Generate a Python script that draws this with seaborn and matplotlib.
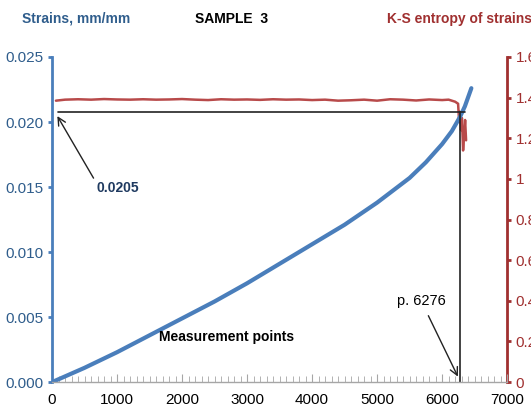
import matplotlib
matplotlib.use("Agg")
import matplotlib.pyplot as plt
from matplotlib.ticker import MultipleLocator
import pandas as pd
import seaborn as sns

# Strain curve
strain_x = [0, 500, 1000, 1500, 2000, 2500, 3000, 3500, 4000, 4500, 5000, 5500, 5750, 6000,
            6150, 6276, 6350, 6400, 6450]
strain_y = [0.0, 0.0011, 0.0023, 0.0036, 0.0049, 0.0062, 0.0076, 0.0091, 0.0106, 0.0121, 0.0138,
            0.0157, 0.0169, 0.0183, 0.0193, 0.0204, 0.0212, 0.0219, 0.0226]

# K-S entropy of strains
ks_x = [60, 200, 400, 600, 800, 1000, 1200, 1400, 1600, 1800, 2000, 2200, 2400, 2600, 2800, 3000,
        3200, 3400, 3600, 3800, 4000, 4200, 4400, 4600, 4800, 5000, 5200, 5400, 5600, 5800, 6000,
        6100, 6200, 6246, 6262, 6275, 6292, 6305, 6323, 6340, 6354, 6369]
ks_y = [1.385, 1.39, 1.392, 1.39, 1.393, 1.391, 1.39, 1.392, 1.39, 1.391, 1.393, 1.39, 1.388, 1.392,
        1.39, 1.391, 1.389, 1.392, 1.39, 1.391, 1.388, 1.39, 1.385, 1.387, 1.39, 1.385, 1.392, 1.39,
        1.386, 1.391, 1.388, 1.39, 1.38, 1.37, 1.28, 1.33, 1.24, 1.3, 1.14, 1.22, 1.29, 1.19]

hline_y = 0.0208
point_x = 6276
x_ticks = [0, 1000, 2000, 3000, 4000, 5000, 6000, 7000]
left_ticks = [0.000, 0.005, 0.010, 0.015, 0.020, 0.025]
right_ticks = [0, 0.2, 0.4, 0.6, 0.8, 1, 1.2, 1.4, 1.6]

blue = "#4A7EBB"
blue_txt = "#2F5D8C"
red = "#B84A4A"
red_txt = "#A03030"

sns.set_style("white")
plt.rcParams["font.family"] = ["Liberation Sans", "DejaVu Sans"]

strain = pd.DataFrame({"x": strain_x, "y": strain_y})
ks = pd.DataFrame({"x": ks_x, "y": ks_y})

fig = plt.figure(figsize=(5.31, 4.19), dpi=100)
ax = fig.add_axes([0.098, 0.088, 0.857, 0.776])
ax2 = ax.twinx()

sns.lineplot(data=ks, x="x", y="y", ax=ax2, color=red, linewidth=1.8)
sns.lineplot(data=strain, x="x", y="y", ax=ax, color=blue, linewidth=3.0)

# reference lines at the failure point
ax.plot([90, 6354], [hline_y, hline_y], color="#222222", lw=1.2)
ax.plot([point_x, point_x], [0, hline_y], color="#222222", lw=1.2)
ax.set_zorder(ax2.get_zorder() + 1)
ax.patch.set_visible(False)

ax.set_xlim(0, 7000)
ax.set_ylim(0, 0.025)
ax2.set_ylim(0, 1.6)
ax.set_xticks(x_ticks)
ax.xaxis.set_minor_locator(MultipleLocator(100))
ax.set_yticks(left_ticks)
ax.set_yticklabels([f"{v:.3f}" for v in left_ticks])
ax2.set_yticks(right_ticks)
ax2.set_yticklabels([f"{v:g}" for v in right_ticks])
ax.set_xlabel("")
ax.set_ylabel("")
ax2.set_ylabel("")

for a in (ax, ax2):
    a.spines["top"].set_visible(False)
ax.spines["right"].set_visible(False)
ax2.spines["left"].set_visible(False)
ax2.spines["bottom"].set_visible(False)
ax.spines["left"].set_color(blue)
ax.spines["left"].set_linewidth(2)
ax.spines["bottom"].set_color("#A6A6A6")
ax.spines["bottom"].set_linewidth(1)
ax2.spines["right"].set_color(red_txt)
ax2.spines["right"].set_linewidth(2)

ax.tick_params(axis="x", which="major", direction="in", length=6, color="#A6A6A6", labelsize=11,
               labelcolor="black", pad=8, bottom=True)
ax.tick_params(axis="x", which="minor", direction="in", length=4, color="#A6A6A6", bottom=True)
ax.tick_params(axis="y", direction="out", length=3, width=2, color=blue, labelcolor=blue_txt,
               labelsize=11, pad=3, left=True)
ax2.tick_params(axis="y", direction="out", length=3, width=2, color=red_txt, labelcolor=red_txt,
                labelsize=11, pad=3, right=True)

# annotations
ax.annotate("", xy=(60, 0.02064), xytext=(660, 0.0155),
            arrowprops=dict(arrowstyle="->", color="#222222", lw=1, mutation_scale=14))
ax.text(1015, 0.0149, "0.0205", ha="center", va="center", fontsize=10, fontweight="bold",
        color="#1F3A60")
ax.annotate("", xy=(6262, 0.00023), xytext=(5770, 0.0053),
            arrowprops=dict(arrowstyle="->", color="#222222", lw=1, mutation_scale=14))
ax.text(5677, 0.00627, "p. 6276", ha="center", va="center", fontsize=10.5, color="black")
ax.text(2677, 0.00344, "Measurement points", ha="center", va="center", fontsize=10,
        fontweight="bold", color="black")

fig.text(0.143, 0.955, "Strains, mm/mm", ha="center", va="center", fontsize=10,
         fontweight="bold", color=blue_txt)
fig.text(0.437, 0.955, "SAMPLE  3", ha="center", va="center", fontsize=10, fontweight="bold",
         color="black")
fig.text(0.866, 0.955, "K-S entropy of strains", ha="center", va="center", fontsize=10,
         fontweight="bold", color=red_txt)

fig.savefig("out.png", dpi=100)
